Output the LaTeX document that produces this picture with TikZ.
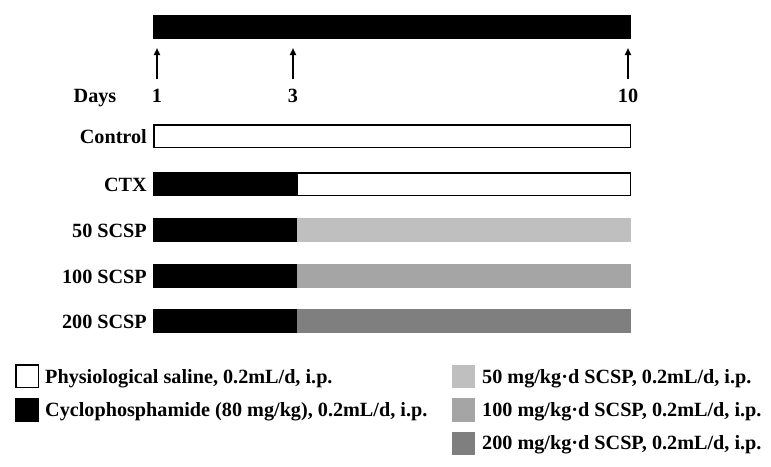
\documentclass[tikz,border=0pt]{standalone}
\usepackage{fontspec}
\setmainfont{Liberation Serif}
\usetikzlibrary{arrows.meta}
\definecolor{gA}{HTML}{BFBFBF}
\definecolor{gB}{HTML}{A5A5A5}
\definecolor{gC}{HTML}{7F7F7F}
\begin{document}
\begin{tikzpicture}[x=1pt,y=-1pt,
  lbl/.style={font=\fontsize{20.2}{22}\selectfont\bfseries, inner sep=0pt},
  leg/.style={font=\fontsize{20.2}{22}\selectfont\bfseries, inner sep=0pt, anchor=base west},
  wbar/.style={draw=black, line width=1.5pt, fill=white},
  dayarrow/.style={line width=2.5pt, -{Triangle[width=6pt,length=7pt]}}]
\useasboundingbox[fill=white] (0,0) rectangle (771,466);
% top bar
\fill[black] (153,15) rectangle (631,39);
% arrows
\coordinate (a1s) at (157,79); \coordinate (a1e) at (157,48);
\coordinate (a3s) at (293,79); \coordinate (a3e) at (293,48);
\coordinate (a10s) at (628,79); \coordinate (a10e) at (628,48);
\draw[dayarrow] (a1s) -- (a1e);
\draw[dayarrow] (a3s) -- (a3e);
\draw[dayarrow] (a10s) -- (a10e);
% day labels
\node[lbl, anchor=base] (days) at (95,102) {Days};
\node[lbl, anchor=base] (d1) at (157,102) {1};
\node[lbl, anchor=base] (d3) at (293,102) {3};
\node[lbl, anchor=base] (d10) at (628,102) {10};
% Control
\draw[wbar] (153.75,124.75) rectangle (630.25,147.25);
\node[lbl, anchor=base east] (lc) at (147,143) {Control};
% CTX
\fill[black] (153,172) rectangle (297,196);
\draw[wbar] (297,172.75) rectangle (630.25,195.25);
\node[lbl, anchor=base east] (lctx) at (147,191) {CTX};
% 50
\fill[black] (153,218) rectangle (297,242);
\fill[gA] (297,218) rectangle (631,242);
\node[lbl, anchor=base east] (l50) at (147,237) {50 SCSP};
% 100
\fill[black] (153,264) rectangle (297,288);
\fill[gB] (297,264) rectangle (631,288);
\node[lbl, anchor=base east] (l100) at (147,283) {100 SCSP};
% 200
\fill[black] (153,309) rectangle (297,333);
\fill[gC] (297,309) rectangle (631,333);
\node[lbl, anchor=base east] (l200) at (147,328) {200 SCSP};
% legend left
\draw[draw=black, line width=1.5pt, fill=white] (15.75,364.75) rectangle (38.25,387.25);
\node[leg] (t1) at (45,383) {Physiological saline, 0.2mL/d, i.p.};
\fill[black] (15,398) rectangle (39,422);
\node[leg] (t2) at (45,416) {Cyclophosphamide (80 mg/kg), 0.2mL/d, i.p.};
% legend right
\fill[gA] (452,365) rectangle (475,388);
\node[leg] (t3) at (482,383) {50 mg/kg·d SCSP, 0.2mL/d, i.p.};
\fill[gB] (452,398) rectangle (475,422);
\node[leg] (t4) at (482,416) {100 mg/kg·d SCSP, 0.2mL/d, i.p.};
\fill[gC] (452,432) rectangle (475,455);
\node[leg] (t5) at (482,449) {200 mg/kg·d SCSP, 0.2mL/d, i.p.};
\end{tikzpicture}
\end{document}
